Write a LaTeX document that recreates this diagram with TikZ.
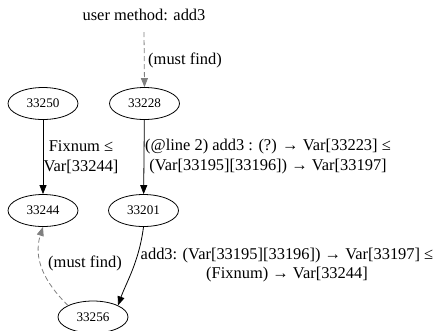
\documentclass[tikz,border=0pt]{standalone}
\usepackage{fontspec}
\setmainfont{Liberation Serif}
\usetikzlibrary{shapes.geometric,arrows.meta}

\tikzset{
  state/.style={ellipse, draw, line width=0.8bp, minimum width=70bp, minimum height=32bp,
    inner sep=0pt, font=\fontsize{13.2}{15}\selectfont},
  lbl/.style={align=center, inner sep=0pt, font=\fontsize{16.5}{20}\selectfont},
  flow/.style={draw, line width=0.8bp, -{Triangle[length=9bp,width=7bp]}},
  hint/.style={draw=gray, line width=0.8bp, dash pattern=on 5bp off 3bp,
    -{Triangle[length=9bp,width=7bp,fill=gray]}},
}

\begin{document}
\begin{tikzpicture}[x=1bp,y=-1bp]
  \useasboundingbox (0,0) rectangle (437,330);

  % entry point
  \node[lbl] (entry) at (144,15) {user method: add3};
  \coordinate (entryfoot) at (144,32);

  % constraint nodes
  \node[state] (n33250) at (43,103.5) {33250};
  \node[state] (n33228) at (144.5,103.5) {33228};
  \node[state] (n33244) at (43,210.5) {33244};
  \node[state] (n33201) at (143.5,210.5) {33201};
  \node[state] (n33256) at (93,317) {33256};

  % edges
  \draw[hint] (entryfoot) -- (n33228.north);
  \draw[flow] (n33250) -- (n33244);
  \draw[flow] (n33228) -- (n33201);
  \draw[flow] (n33201.south) .. controls (139,262) and (126,283) .. (n33256.north east);
  \draw[hint] (n33256.north west) .. controls (44,282) and (33,258) .. (n33244.south);

  % edge labels
  \node[lbl] (l1) at (185,60) {(must find)};
  \node[lbl] (l2) at (81,157) {Fixnum ≤\\Var[33244]};
  \node[lbl] (l3) at (268,157) {(@line 2) add3 : (?) → Var[33223] ≤\\(Var[33195][33196]) → Var[33197]};
  \node[lbl] (l4) at (287,265) {add3: (Var[33195][33196]) → Var[33197] ≤\\(Fixnum) → Var[33244]};
  \node[lbl] (l5) at (85,263) {(must find)};
\end{tikzpicture}
\end{document}
